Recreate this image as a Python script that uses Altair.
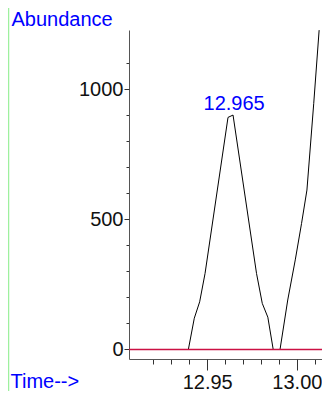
import altair as alt
import pandas as pd

# Chromatogram trace (retention time in minutes, abundance counts)
times = [12.9100, 12.9395, 12.9428, 12.9458, 12.9488, 12.9616, 12.9644, 12.9775,
         12.9807, 12.9838, 12.9868, 12.9906, 12.9949, 12.9991, 13.0026, 13.0056,
         13.0094, 13.0124]
abundance = [0, 0, 120, 183, 292, 891, 900, 292,
             177, 124, 0, 0, 190, 344, 484, 612,
             945, 1226]

# Peak annotation
peak_time = [12.965]
peak_abund = [900]
peak_label = ["12.965"]

# Axis ticks
x_minor = [12.92, 12.93, 12.94, 12.96, 12.97, 12.98, 12.99, 13.01]
x_major = [12.95, 13.00]
y_minor = [100, 200, 300, 400, 600, 700, 800, 900, 1100]
y_major = [0, 500, 1000]

FONT = "Liberation Sans"

trace_df = pd.DataFrame({"time": times, "abund": abundance})
peak_df = pd.DataFrame({"time": peak_time, "abund": peak_abund, "label": peak_label})
zero_df = pd.DataFrame({"abund": [0]})
one = pd.DataFrame({"a": [0]})

x_scale = alt.Scale(domain=[12.9064, 13.014], nice=False, zero=False)
y_scale = alt.Scale(domain=[-36.5, 1226.5], nice=False, zero=False)

trace = alt.Chart(trace_df).mark_line(color="black", strokeWidth=1, clip=True).encode(
    x=alt.X("time:Q", scale=x_scale,
            axis=alt.Axis(orient="bottom", values=x_minor, tickSize=5, labels=False, grid=False,
                          domain=True, domainColor="#555", tickColor="#333",
                          title="Time-->", titleX=-119, titleY=28,
                          titleAlign="left", titleBaseline="alphabetic")),
    y=alt.Y("abund:Q", scale=y_scale,
            axis=alt.Axis(orient="left", values=y_minor, tickSize=3, labels=False, grid=False,
                          domain=True, domainColor="#555", tickColor="#333",
                          title="Abundance", titleAngle=0, titleX=-118, titleY=-5,
                          titleAlign="left", titleBaseline="alphabetic")),
)

zero = alt.Chart(zero_df).mark_rule(color="#cc1144", strokeWidth=1.5).encode(
    y=alt.Y("abund:Q", scale=y_scale, axis=None)
)

label = alt.Chart(peak_df).mark_text(
    color="blue", fontSize=20, font=FONT, dy=-5, baseline="alphabetic", align="center"
).encode(
    x=alt.X("time:Q", scale=x_scale,
            axis=alt.Axis(orient="bottom", values=x_major, tickSize=11, format=".2f",
                          labelPadding=2, labelFlush=False, domain=False, grid=False,
                          tickColor="#333", title=None)),
    y=alt.Y("abund:Q", scale=y_scale,
            axis=alt.Axis(orient="left", values=y_major, tickSize=5, format="d",
                          labelPadding=1, domain=False, grid=False, tickColor="#333",
                          title=None)),
    text="label:N",
)

frame_left = alt.Chart(one).mark_rule(color="#9ef09e", strokeWidth=1.5).encode(
    x=alt.value(-120.5), y=alt.value(-30), y2=alt.value(361))

chart = alt.layer(
    frame_left, trace, zero, label
).resolve_axis(
    x="independent", y="independent"
).properties(
    width=193, height=329,
    autosize=alt.AutoSizeParams(type="none"),
    padding={"left": 121, "top": 22, "right": 0, "bottom": 32},
).configure_view(
    stroke=None
).configure_axis(
    labelFont=FONT, labelFontSize=20, labelColor="#111",
    titleFont=FONT, titleFontSize=20, titleColor="blue", titleFontWeight="normal",
)

chart.save("out.html", embed_options={"renderer": "svg", "actions": False})
